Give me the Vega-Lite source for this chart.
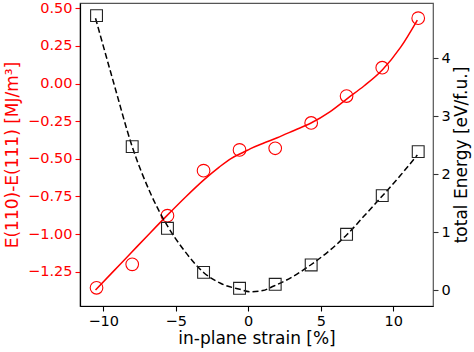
{
  "$schema": "https://vega.github.io/schema/vega-lite/v6.json",
  "width": 353,
  "height": 303,
  "autosize": {"type": "none"},
  "padding": {"left": 80, "top": 3, "right": 41, "bottom": 46},
  "background": "white",
  "config": {
    "view": {"stroke": "#555555", "strokeWidth": 1.2},
    "font": "DejaVu Sans",
    "axis": {
      "grid": false,
      "domain": false,
      "labelFont": "DejaVu Sans",
      "titleFont": "DejaVu Sans",
      "labelFontSize": 14.5,
      "titleFontSize": 17,
      "titleFontWeight": "normal",
      "tickSize": 5,
      "tickWidth": 1.1,
      "labelPadding": 3,
      "tickColor": "black",
      "labelColor": "black",
      "titleColor": "black"
    }
  },
  "datasets": {
    "pts": [
      {"strain": -10.46, "aniso": -1.357, "energy": 4.737},
      {"strain": -8.0, "aniso": -1.201, "energy": 2.475},
      {"strain": -5.57, "aniso": -0.878, "energy": 1.066},
      {"strain": -3.08, "aniso": -0.579, "energy": 0.305},
      {"strain": -0.6, "aniso": -0.441, "energy": 0.03},
      {"strain": 1.86, "aniso": -0.43, "energy": 0.098},
      {"strain": 4.34, "aniso": -0.262, "energy": 0.432},
      {"strain": 6.78, "aniso": -0.083, "energy": 0.962},
      {"strain": 9.24, "aniso": 0.105, "energy": 1.629},
      {"strain": 11.72, "aniso": 0.434, "energy": 2.389}
    ],
    "redfit": [
      {"strain": -10.53, "value": -1.372},
      {"strain": -9.3, "value": -1.248},
      {"strain": -8.12, "value": -1.129},
      {"strain": -6.8, "value": -0.996},
      {"strain": -5.59, "value": -0.876},
      {"strain": -4.3, "value": -0.752},
      {"strain": -3.06, "value": -0.64},
      {"strain": -2.0, "value": -0.555},
      {"strain": -1.22, "value": -0.5},
      {"strain": -0.3, "value": -0.455},
      {"strain": 0.16, "value": -0.432},
      {"strain": 1.0, "value": -0.398},
      {"strain": 2.0, "value": -0.36},
      {"strain": 3.2, "value": -0.31},
      {"strain": 4.3, "value": -0.264},
      {"strain": 5.6, "value": -0.19},
      {"strain": 6.83, "value": -0.1},
      {"strain": 8.0, "value": -0.015},
      {"strain": 9.24, "value": 0.09},
      {"strain": 10.5, "value": 0.24},
      {"strain": 11.66, "value": 0.422}
    ],
    "blackfit": [
      {"strain": -10.53, "value": 4.693},
      {"strain": -9.27, "value": 3.57},
      {"strain": -8.0, "value": 2.475},
      {"strain": -6.74, "value": 1.67},
      {"strain": -5.54, "value": 1.093},
      {"strain": -4.44, "value": 0.691},
      {"strain": -3.06, "value": 0.299},
      {"strain": -1.91, "value": 0.116},
      {"strain": -0.58, "value": 0.012},
      {"strain": 0.16, "value": -0.03},
      {"strain": 1.0, "value": -0.01},
      {"strain": 1.77, "value": 0.07},
      {"strain": 3.0, "value": 0.22},
      {"strain": 4.3, "value": 0.432},
      {"strain": 5.6, "value": 0.68},
      {"strain": 6.83, "value": 0.962},
      {"strain": 8.0, "value": 1.28},
      {"strain": 9.24, "value": 1.623},
      {"strain": 10.5, "value": 1.98},
      {"strain": 11.66, "value": 2.332}
    ]
  },
  "layer": [
    {
      "layer": [
        {
          "data": {"name": "redfit"},
          "mark": {"type": "line", "color": "red", "strokeWidth": 1.5, "interpolate": "monotone"},
          "encoding": {
            "x": {"field": "strain", "type": "quantitative"},
            "y": {"field": "value", "type": "quantitative"}
          }
        },
        {
          "data": {"name": "pts"},
          "mark": {"type": "point", "shape": "circle", "filled": false, "color": "red", "size": 160, "strokeWidth": 1.1, "opacity": 1},
          "encoding": {
            "x": {"field": "strain", "type": "quantitative"},
            "y": {"field": "aniso", "type": "quantitative"}
          }
        }
      ],
      "encoding": {
        "x": {
          "field": "strain", "type": "quantitative",
          "scale": {"domain": [-11.6, 12.74], "nice": false, "zero": false},
          "axis": {"title": "in-plane strain [%]", "values": [-10, -5, 0, 5, 10], "format": "d", "titlePadding": 3, "domain": true, "domainColor": "black", "domainWidth": 1.2}
        },
        "y": {
          "field": "value", "type": "quantitative",
          "scale": {"domain": [-1.478, 0.535], "nice": false, "zero": false},
          "axis": {
            "title": "E(110)-E(111) [MJ/m³]",
            "orient": "left",
            "values": [-1.25, -1.0, -0.75, -0.5, -0.25, 0, 0.25, 0.5],
            "format": ".2f",
            "labelColor": "red",
            "titleColor": "red",
            "tickColor": "red",
            "titlePadding": 6,
            "domain": true,
            "domainColor": "black",
            "domainWidth": 1.2
          }
        }
      }
    },
    {
      "layer": [
        {
          "data": {"name": "blackfit"},
          "mark": {"type": "line", "color": "black", "strokeWidth": 1.5, "strokeDash": [6, 3], "interpolate": "monotone"},
          "encoding": {
            "x": {"field": "strain", "type": "quantitative"},
            "y": {"field": "value", "type": "quantitative"}
          }
        },
        {
          "data": {"name": "pts"},
          "mark": {"type": "point", "shape": "square", "filled": false, "color": "#222222", "size": 140, "strokeWidth": 1.1, "opacity": 1},
          "encoding": {
            "x": {"field": "strain", "type": "quantitative"},
            "y": {"field": "energy", "type": "quantitative"}
          }
        }
      ],
      "encoding": {
        "x": {"field": "strain", "type": "quantitative"},
        "y": {
          "field": "value", "type": "quantitative",
          "scale": {"domain": [-0.276, 4.955], "nice": false, "zero": false},
          "axis": {
            "title": "total Energy [eV/f.u.]",
            "orient": "right",
            "values": [0, 1, 2, 3, 4],
            "format": "d",
            "tickColor": "#333333",
            "titleAngle": 270,
            "titleBaseline": "top",
            "titlePadding": 3
          }
        }
      }
    }
  ],
  "resolve": {"scale": {"y": "independent"}}
}
